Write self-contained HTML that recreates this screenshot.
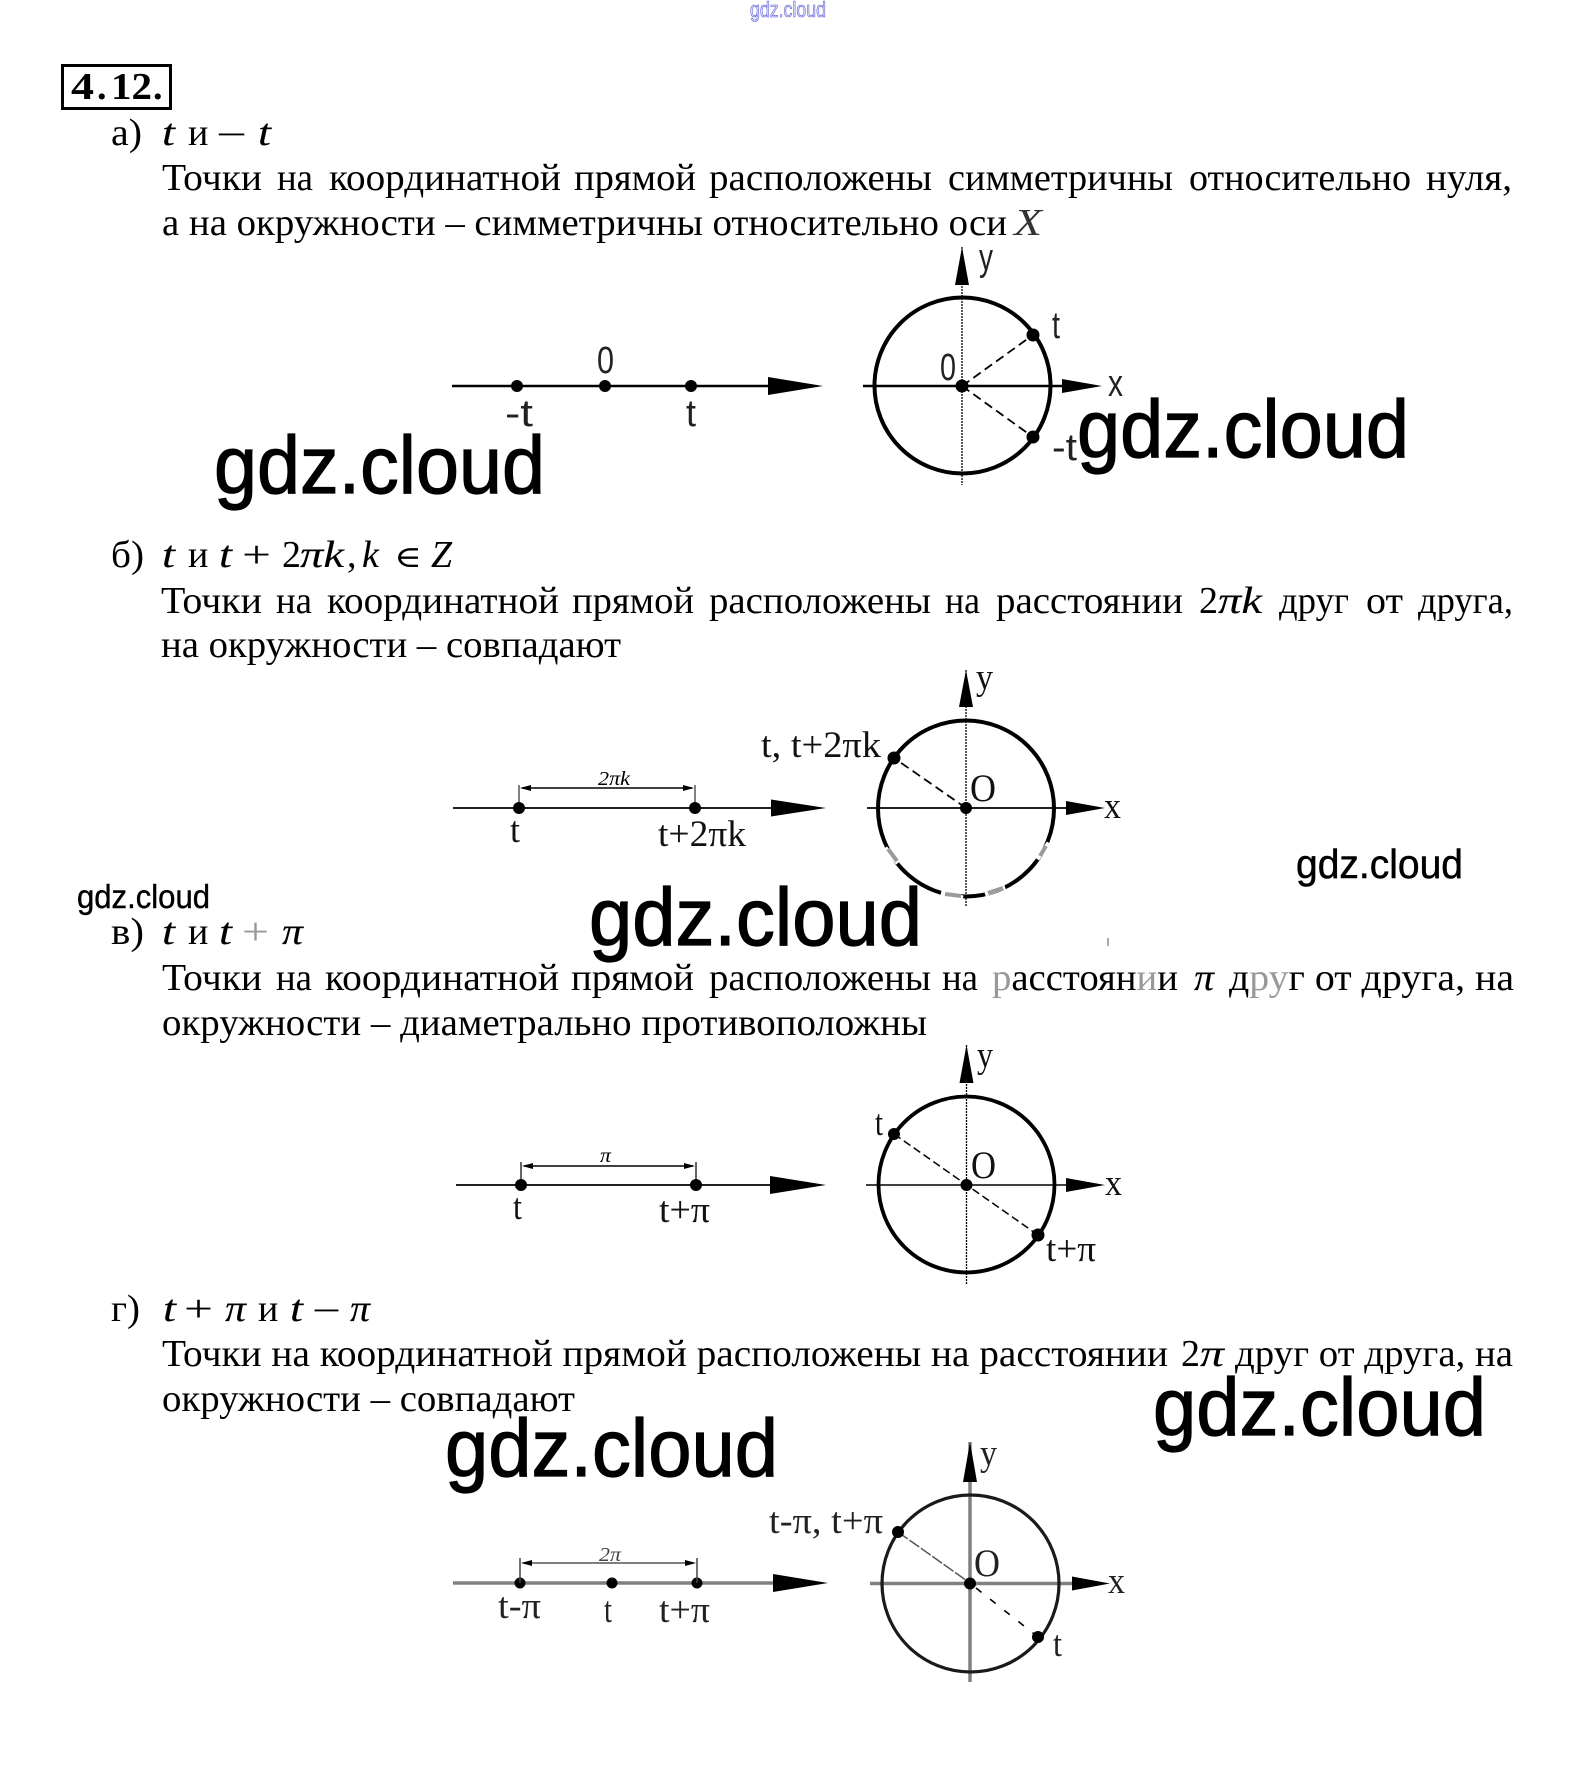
<!DOCTYPE html>
<html lang="ru">
<head>
<meta charset="utf-8">
<title>4.12</title>
<style>
html,body{margin:0;padding:0;background:#fff;width:1576px;height:1767px;overflow:hidden}
svg{display:block}
text{fill:#000;white-space:pre}
.s{font:38px "Liberation Serif",serif}
.i{font:italic 38px "Liberation Serif",serif;stroke:#000;stroke-width:.12}
.b{font:bold 38px "Liberation Serif",serif}
.w{font:82px "Liberation Sans",sans-serif;fill:#000;stroke:#000;stroke-width:1.200}
.d{font:37px "Liberation Serif",serif;fill:#111}
.o{font:39px "Liberation Serif",serif;fill:#111}
.n{font:38px "Liberation Sans",sans-serif;fill:#222}
.m{font:italic 20px "Liberation Serif",serif}
.g{fill:#999}
.q{fill:#222}
</style>
</head>
<body>
<svg width="1576" height="1767" viewBox="0 0 1576 1767" xmlns="http://www.w3.org/2000/svg">
<rect width="1576" height="1767" fill="#fff"/>

<text x="750" y="17" style="font:22px 'Liberation Sans',sans-serif;fill:#dfe0ff;stroke:#5555dd;stroke-width:.6" textLength="76" lengthAdjust="spacingAndGlyphs">gdz.cloud</text>

<rect x="62.500" y="65.500" width="108" height="43" fill="none" stroke="#000" stroke-width="3"/>
<text class="b" x="71" y="99" textLength="23" lengthAdjust="spacingAndGlyphs">4</text>
<text class="b" x="97" y="99">.</text>
<text class="b" x="111" y="99" textLength="41" lengthAdjust="spacingAndGlyphs">12</text>
<text class="b" x="153" y="99">.</text>

<!-- а -->
<text class="s" x="111" y="145" textLength="31" lengthAdjust="spacingAndGlyphs">а)</text>
<text class="i" x="162" y="145" textLength="13" lengthAdjust="spacingAndGlyphs">t</text><text class="s" x="188" y="145">и</text><text class="s" x="216" y="147" textLength="31" lengthAdjust="spacingAndGlyphs">−</text><text class="i" x="258" y="145" textLength="13" lengthAdjust="spacingAndGlyphs">t</text>
<text class="s" x="162" y="190" textLength="100" lengthAdjust="spacingAndGlyphs">Точки</text>
<text class="s" x="277" y="190" textLength="36" lengthAdjust="spacingAndGlyphs">на</text>
<text class="s" x="329" y="190" textLength="232" lengthAdjust="spacingAndGlyphs">координатной</text>
<text class="s" x="574" y="190" textLength="122" lengthAdjust="spacingAndGlyphs">прямой</text>
<text class="s" x="709" y="190" textLength="223" lengthAdjust="spacingAndGlyphs">расположены</text>
<text class="s" x="948" y="190" textLength="225" lengthAdjust="spacingAndGlyphs">симметричны</text>
<text class="s" x="1189" y="190" textLength="222" lengthAdjust="spacingAndGlyphs">относительно</text>
<text class="s" x="1426" y="190" textLength="86" lengthAdjust="spacingAndGlyphs">нуля,</text>
<text class="s" x="162" y="235" textLength="845" lengthAdjust="spacingAndGlyphs">а на окружности – симметричны относительно оси</text>
<text class="i" x="1014" y="235" textLength="28" lengthAdjust="spacingAndGlyphs" style="stroke-width:0;fill:#333">X</text>

<!-- б -->
<text class="s" x="111" y="567" textLength="33" lengthAdjust="spacingAndGlyphs">б)</text>
<text class="i" x="162" y="567" textLength="13" lengthAdjust="spacingAndGlyphs">t</text><text class="s" x="188" y="567">и</text><text class="i" x="219" y="567" textLength="13" lengthAdjust="spacingAndGlyphs">t</text><text class="s" x="242" y="567" textLength="29" lengthAdjust="spacingAndGlyphs">+</text><text class="s" x="282" y="567">2</text><text class="i" x="300" y="567" textLength="44" lengthAdjust="spacingAndGlyphs">πk</text><text class="s" x="347" y="567">,</text><text class="i" x="362" y="567">k</text><text class="s" x="394" y="567" textLength="28" lengthAdjust="spacingAndGlyphs" style="font-family:'DejaVu Serif',serif;font-size:30px">∈</text><text class="i" x="431" y="567" textLength="21" lengthAdjust="spacingAndGlyphs">Z</text>
<text class="s" x="161" y="613" textLength="101" lengthAdjust="spacingAndGlyphs">Точки</text>
<text class="s" x="276" y="613" textLength="36" lengthAdjust="spacingAndGlyphs">на</text>
<text class="s" x="327" y="613" textLength="232" lengthAdjust="spacingAndGlyphs">координатной</text>
<text class="s" x="572" y="613" textLength="122" lengthAdjust="spacingAndGlyphs">прямой</text>
<text class="s" x="709" y="613" textLength="222" lengthAdjust="spacingAndGlyphs">расположены</text>
<text class="s" x="945" y="613" textLength="35" lengthAdjust="spacingAndGlyphs">на</text>
<text class="s" x="996" y="613" textLength="187" lengthAdjust="spacingAndGlyphs">расстоянии</text>
<text class="s" x="1199" y="613">2</text><text class="i" x="1218" y="613" textLength="44" lengthAdjust="spacingAndGlyphs">πk</text>
<text class="s" x="1279" y="613" textLength="70" lengthAdjust="spacingAndGlyphs">друг</text>
<text class="s" x="1366" y="613" textLength="37" lengthAdjust="spacingAndGlyphs">от</text>
<text class="s" x="1418" y="613" textLength="95" lengthAdjust="spacingAndGlyphs">друга,</text>
<text class="s" x="161" y="657" textLength="460" lengthAdjust="spacingAndGlyphs">на окружности – совпадают</text>

<!-- в -->
<text class="s" x="111" y="944" textLength="33" lengthAdjust="spacingAndGlyphs">в)</text>
<text class="i" x="162" y="944" textLength="13" lengthAdjust="spacingAndGlyphs">t</text><text class="s" x="188" y="944">и</text><text class="i" x="219" y="944" textLength="13" lengthAdjust="spacingAndGlyphs">t</text><text class="s g" x="242" y="944" textLength="27" lengthAdjust="spacingAndGlyphs">+</text><text class="i" x="282" y="944" textLength="21" lengthAdjust="spacingAndGlyphs">π</text>
<text class="s" x="162" y="990" textLength="100" lengthAdjust="spacingAndGlyphs">Точки</text>
<text class="s" x="276" y="990" textLength="36" lengthAdjust="spacingAndGlyphs">на</text>
<text class="s" x="325" y="990" textLength="234" lengthAdjust="spacingAndGlyphs">координатной</text>
<text class="s" x="571" y="990" textLength="123" lengthAdjust="spacingAndGlyphs">прямой</text>
<text class="s" x="709" y="990" textLength="222" lengthAdjust="spacingAndGlyphs">расположены</text>
<text class="s" x="942" y="990" textLength="36" lengthAdjust="spacingAndGlyphs">на</text>
<text class="s" x="992" y="990" textLength="186" lengthAdjust="spacingAndGlyphs"><tspan class="g">р</tspan>асстоян<tspan class="g">и</tspan>и</text>
<text class="i" x="1194" y="990" textLength="20" lengthAdjust="spacingAndGlyphs">π</text>
<text class="s" x="1229" y="990" textLength="285" lengthAdjust="spacingAndGlyphs">д<tspan class="g">ру</tspan>г от друга, на</text>
<text class="s" x="162" y="1035" textLength="765" lengthAdjust="spacingAndGlyphs">окружности – диаметрально противоположны</text>

<!-- г -->
<text class="s" x="111" y="1321" textLength="29" lengthAdjust="spacingAndGlyphs">г)</text>
<text class="i" x="163" y="1321" textLength="13" lengthAdjust="spacingAndGlyphs">t</text><text class="s" x="184" y="1321" textLength="29" lengthAdjust="spacingAndGlyphs">+</text><text class="i" x="225" y="1321" textLength="21" lengthAdjust="spacingAndGlyphs">π</text><text class="s" x="258" y="1321">и</text><text class="i" x="290" y="1321" textLength="13" lengthAdjust="spacingAndGlyphs">t</text><text class="s" x="312" y="1323" textLength="29" lengthAdjust="spacingAndGlyphs">−</text><text class="i" x="350" y="1321" textLength="20" lengthAdjust="spacingAndGlyphs">π</text>
<text class="s" x="162" y="1366" textLength="1006" lengthAdjust="spacingAndGlyphs">Точки на координатной прямой расположены на расстоянии</text>
<text class="s" x="1181" y="1366">2</text><text class="i" x="1200" y="1366" textLength="24" lengthAdjust="spacingAndGlyphs">π</text>
<text class="s" x="1235" y="1366" textLength="278" lengthAdjust="spacingAndGlyphs">друг от друга, на</text>
<text class="s" x="162" y="1411" textLength="413" lengthAdjust="spacingAndGlyphs">окружности – совпадают</text>

<!-- Diagram A -->
<g stroke="#000" fill="#000">
<line x1="452" y1="386" x2="770" y2="386" stroke-width="2.500"/>
<polygon points="768,377 823,386 768,395" stroke="none"/>
<circle cx="517" cy="386" r="5.500"/><circle cx="605" cy="386" r="5.500"/><circle cx="691" cy="386" r="5.500"/>
<circle cx="962.500" cy="385.500" r="88" fill="none" stroke-width="4"/>
<line x1="863" y1="386" x2="1064" y2="386" stroke-width="2.500"/>
<polygon points="1062,379 1102,386 1062,393" stroke="none"/>
<line x1="962" y1="247" x2="962" y2="485" stroke-width="1.300" stroke-dasharray="2 1"/>
<polygon points="962,247 969,285 955,285" stroke="none"/>
<line x1="962" y1="386" x2="1033" y2="335" stroke-width="1.800" stroke-dasharray="9 5"/>
<line x1="962" y1="386" x2="1033" y2="437" stroke-width="1.800" stroke-dasharray="9 5"/>
<circle cx="962" cy="386" r="6"/><circle cx="1033" cy="335" r="6"/><circle cx="1033" cy="437" r="6"/>
</g>
<text class="n" x="597" y="373" textLength="17" lengthAdjust="spacingAndGlyphs">0</text>
<text class="n" x="505" y="426" textLength="28" lengthAdjust="spacingAndGlyphs">-t</text>
<text class="n" x="686" y="426" textLength="10" lengthAdjust="spacingAndGlyphs">t</text>
<text class="n" x="979" y="270" textLength="14" lengthAdjust="spacingAndGlyphs">y</text>
<text class="n" x="1052" y="338" textLength="8" lengthAdjust="spacingAndGlyphs">t</text>
<text class="n" x="940" y="380" textLength="16" lengthAdjust="spacingAndGlyphs">0</text>
<text class="n" x="1108" y="396" textLength="15" lengthAdjust="spacingAndGlyphs">x</text>
<text class="n" x="1052" y="460" textLength="25" lengthAdjust="spacingAndGlyphs">-t</text>

<!-- Diagram B -->
<g stroke="#000" fill="#000">
<line x1="453" y1="808" x2="772" y2="808" stroke-width="1.800"/>
<polygon points="771,799.500 826,808 771,816.500" stroke="none"/>
<circle cx="519" cy="808" r="5.500"/><circle cx="695" cy="808" r="5.500"/>
<line x1="519" y1="785" x2="519" y2="808" stroke-width="1"/>
<line x1="695" y1="785" x2="695" y2="808" stroke-width="1"/>
<line x1="522" y1="788" x2="692" y2="788" stroke-width="1.500"/>
<polygon points="520,788 531,785 531,791" stroke="none"/><polygon points="694,788 683,785 683,791" stroke="none"/>
<circle cx="966" cy="808.500" r="88" fill="none" stroke-width="4"/>
<line x1="867" y1="808" x2="1068" y2="808" stroke-width="1.800"/>
<polygon points="1066,801 1105,808 1066,815" stroke="none"/>
<line x1="966" y1="670" x2="966" y2="907" stroke-width="1.300" stroke-dasharray="2 1"/>
<polygon points="966,670 973,707 959,707" stroke="none"/>
<line x1="966" y1="808" x2="894" y2="758" stroke-width="1.800" stroke-dasharray="9 5"/>
<circle cx="966" cy="808" r="5.500"/><circle cx="894" cy="758" r="6"/>
</g>
<g fill="none" stroke-width="5">
<path d="M885,848 L898,863 M941,893 L963,898 M985,894 L1005,887 M1037,859 L1049,843" stroke="#fff"/>
</g>
<g fill="none" stroke="#9a9a9a" stroke-width="4">
<path d="M888,849 L897,861"/><path d="M945,894 L961,896"/><path d="M988,893 L1003,888"/><path d="M1040,856 L1046,846"/>
</g>
<text class="m" x="598" y="785" textLength="32" lengthAdjust="spacingAndGlyphs">2πk</text>
<text class="d" x="510" y="842" textLength="10" lengthAdjust="spacingAndGlyphs">t</text>
<text class="d" x="658" y="846" textLength="88" lengthAdjust="spacingAndGlyphs">t+2πk</text>
<text class="d" x="976" y="689" textLength="17" lengthAdjust="spacingAndGlyphs">y</text>
<text class="o" x="970" y="801" textLength="26" lengthAdjust="spacingAndGlyphs">O</text>
<text class="d" x="1104" y="818" textLength="17" lengthAdjust="spacingAndGlyphs">x</text>
<text class="d" x="761" y="757" textLength="120" lengthAdjust="spacingAndGlyphs">t, t+2πk</text>
<line x1="1108" y1="938" x2="1108" y2="946" stroke="#555" stroke-width="1"/>

<!-- Diagram C -->
<g stroke="#000" fill="#000">
<line x1="456" y1="1185" x2="772" y2="1185" stroke-width="1.800"/>
<polygon points="770,1176 826,1185 770,1194" stroke="none"/>
<circle cx="521" cy="1185" r="5.500"/><circle cx="696" cy="1185" r="5.500"/>
<line x1="521" y1="1162" x2="521" y2="1185" stroke-width="1.200"/>
<line x1="696" y1="1162" x2="696" y2="1185" stroke-width="1.200"/>
<line x1="524" y1="1166" x2="693" y2="1166" stroke-width="1.500"/>
<polygon points="522,1166 533,1163 533,1169" stroke="none"/><polygon points="695,1166 684,1163 684,1169" stroke="none"/>
<circle cx="966.500" cy="1184.500" r="88" fill="none" stroke-width="3.800"/>
<line x1="866" y1="1185" x2="1068" y2="1185" stroke-width="1.500"/>
<polygon points="1066,1178 1105,1185 1066,1192" stroke="none"/>
<line x1="966.500" y1="1045" x2="966.500" y2="1285" stroke-width="1.300" stroke-dasharray="2 1"/>
<polygon points="966.500,1045 973.500,1083 959.500,1083" stroke="none"/>
<line x1="894" y1="1134" x2="1038" y2="1235" stroke-width="1.500" stroke-dasharray="8 4"/>
<circle cx="966.500" cy="1185" r="5.500"/><circle cx="894" cy="1134" r="5.500"/><circle cx="1038" cy="1235" r="6"/>
</g>
<text class="m" x="600" y="1162" textLength="11" lengthAdjust="spacingAndGlyphs">π</text>
<text class="d" x="513" y="1219" textLength="9" lengthAdjust="spacingAndGlyphs">t</text>
<text class="d" x="659" y="1222" textLength="51" lengthAdjust="spacingAndGlyphs">t+π</text>
<text class="d" x="977" y="1067" textLength="16" lengthAdjust="spacingAndGlyphs">y</text>
<text class="d" x="875" y="1135" textLength="8" lengthAdjust="spacingAndGlyphs">t</text>
<text class="o" x="971" y="1178" textLength="25" lengthAdjust="spacingAndGlyphs">O</text>
<text class="d" x="1105" y="1195" textLength="17" lengthAdjust="spacingAndGlyphs">x</text>
<text class="d" x="1046" y="1261" textLength="50" lengthAdjust="spacingAndGlyphs">t+π</text>

<!-- Diagram D -->
<g stroke="#000" fill="#000">
<line x1="453" y1="1583" x2="775" y2="1583" stroke="#808080" stroke-width="3.500"/>
<polygon points="773,1574 828,1583 773,1592" stroke="none"/>
<circle cx="520" cy="1583" r="5"/><circle cx="612" cy="1583" r="5"/><circle cx="697" cy="1583" r="5"/>
<line x1="520" y1="1558" x2="520" y2="1583" stroke-width="1.500" stroke="#444"/>
<line x1="697" y1="1558" x2="697" y2="1583" stroke-width="1.500" stroke="#444"/>
<line x1="523" y1="1563" x2="694" y2="1563" stroke-width="1.200" stroke="#333"/>
<polygon points="521,1563 532,1560 532,1566" stroke="none"/><polygon points="696,1563 685,1560 685,1566" stroke="none"/>
<line x1="870" y1="1583.500" x2="1074" y2="1583.500" stroke="#808080" stroke-width="3.500"/>
<polygon points="1072,1576.500 1110,1583.500 1072,1590.500" stroke="none"/>
<line x1="970" y1="1442" x2="970" y2="1682" stroke="#808080" stroke-width="3.500"/>
<polygon points="970,1442 977,1482 963,1482" stroke="none"/>
<circle cx="970.500" cy="1583.500" r="88.500" fill="none" stroke="#1a1a1a" stroke-width="3.200"/>
<line x1="898" y1="1532" x2="970" y2="1583" stroke="#555" stroke-width="1.500" stroke-dasharray="12 2"/>
<line x1="976" y1="1588" x2="1038" y2="1637" stroke-width="1.600" stroke-dasharray="7 11"/>
<circle cx="970" cy="1583.500" r="5.500"/><circle cx="898" cy="1532" r="5.500"/><circle cx="1038" cy="1637" r="5.500"/>
</g>
<text class="m" x="599" y="1561" textLength="22" lengthAdjust="spacingAndGlyphs" style="fill:#444">2π</text>
<text class="d q" x="498" y="1618" textLength="43" lengthAdjust="spacingAndGlyphs">t-π</text>
<text class="d q" x="604" y="1622" textLength="8" lengthAdjust="spacingAndGlyphs">t</text>
<text class="d q" x="659" y="1622" textLength="51" lengthAdjust="spacingAndGlyphs">t+π</text>
<text class="d q" x="980" y="1465" textLength="17" lengthAdjust="spacingAndGlyphs">y</text>
<text class="o q" x="974" y="1576" textLength="26" lengthAdjust="spacingAndGlyphs">O</text>
<text class="d q" x="1108" y="1593" textLength="17" lengthAdjust="spacingAndGlyphs">x</text>
<text class="d q" x="1053" y="1656" textLength="9" lengthAdjust="spacingAndGlyphs">t</text>
<text class="d q" x="769" y="1533" textLength="114" lengthAdjust="spacingAndGlyphs">t-π, t+π</text>

<!-- Watermarks -->
<text class="w" x="214" y="493" textLength="331" lengthAdjust="spacingAndGlyphs">gdz.cloud</text>
<text class="w" x="1077" y="457" textLength="332" lengthAdjust="spacingAndGlyphs">gdz.cloud</text>
<text class="w" x="589" y="945" textLength="333" lengthAdjust="spacingAndGlyphs">gdz.cloud</text>
<text class="w" x="445" y="1476" textLength="333" lengthAdjust="spacingAndGlyphs">gdz.cloud</text>
<text class="w" x="1153" y="1435" textLength="333" lengthAdjust="spacingAndGlyphs">gdz.cloud</text>
<text class="w" x="77" y="908" textLength="133" lengthAdjust="spacingAndGlyphs" style="font-size:33px;stroke-width:.4">gdz.cloud</text>
<text class="w" x="1296" y="878" textLength="167" lengthAdjust="spacingAndGlyphs" style="font-size:41px;stroke-width:.5">gdz.cloud</text>
</svg>
</body>
</html>
